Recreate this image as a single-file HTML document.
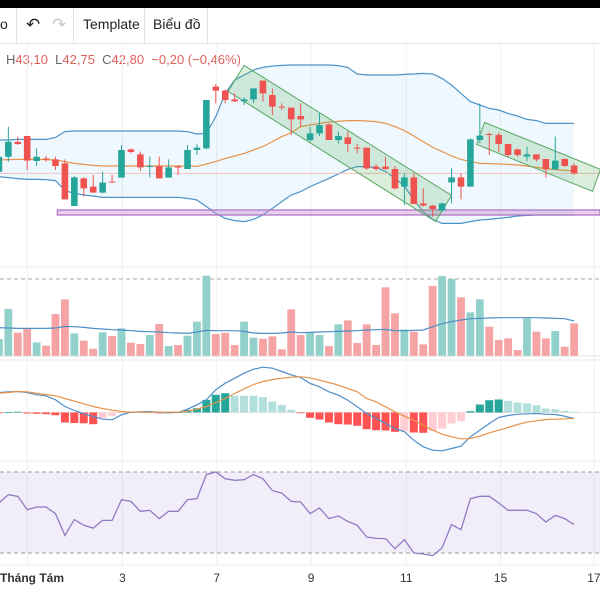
<!DOCTYPE html>
<html><head><meta charset="utf-8">
<style>
html,body{margin:0;padding:0;background:#fff;}
body{width:600px;height:600px;overflow:hidden;position:relative;font-family:"Liberation Sans","Noto Sans CJK SC",sans-serif;}
#topbar{position:absolute;left:0;top:0;width:600px;height:8px;background:#000;}
#toolbar{position:absolute;left:0;top:8px;width:600px;height:35px;border-bottom:1px solid #e6e6e6;background:#fff;}
.tb{position:absolute;top:0;height:35px;line-height:33px;font-size:14px;color:#222;}
.div{position:absolute;top:0;width:1px;height:35px;background:#e3e3e3;}
#ohlc{position:absolute;left:6px;top:52px;font-size:13px;color:#e0605a;white-space:nowrap;}
#ohlc .k{color:#666;}
svg{position:absolute;left:0;top:0;}
</style></head><body>
<div id="topbar"></div>
<div id="toolbar">
  <div class="tb" style="left:0">o</div>
  <div class="div" style="left:16px"></div>
  <div class="tb" style="left:26px;font-size:17px">↶</div>
  <div class="tb" style="left:52px;font-size:17px;color:#c8c8c8">↷</div>
  <div class="div" style="left:73px"></div>
  <div class="tb" style="left:83px">Template</div>
  <div class="div" style="left:144px"></div>
  <div class="tb" style="left:153px">Biểu đồ</div>
  <div class="div" style="left:207px"></div>
</div>
<div id="ohlc"><span class="k">H</span>43,10&nbsp; <span class="k">L</span>42,75&nbsp; <span class="k">C</span>42,80&nbsp; −0,20 (−0,46%)</div>
<svg id="chart" width="600" height="600"></svg>
<script>
const openP=[42.88,43.63,44.38,44.67,43.42,43.55,43.50,43.30,41.17,42.55,42.14,41.84,42.39,42.59,44.00,43.75,43.14,43.17,42.59,43.14,43.02,43.97,44.05,47.14,46.94,46.50,46.40,46.50,47.44,46.72,46.14,46.09,45.67,44.47,44.80,45.25,44.47,44.60,44.09,44.09,43.14,43.14,43.02,42.14,42.60,41.30,41.19,40.94,42.35,42.60,42.14,44.47,44.77,44.72,44.27,44.00,43.64,43.75,43.52,43.00,43.52,43.19];
const highP=[43.72,45.13,44.64,44.67,44.05,43.67,43.64,43.50,42.67,42.60,42.72,42.89,42.72,44.22,44.05,43.89,43.64,43.64,43.50,43.22,44.22,44.27,46.47,47.27,47.00,46.80,46.60,47.05,47.44,47.05,46.30,46.09,46.30,45.14,45.80,45.30,44.89,44.89,44.27,44.09,43.27,43.64,43.17,42.80,42.80,42.05,41.22,41.34,43.05,42.80,44.55,46.30,44.84,44.84,44.27,44.05,44.14,43.75,43.52,44.64,43.55,43.30];
const lowP=[42.80,43.39,44.22,42.97,43.17,43.39,42.97,41.50,41.17,41.64,41.84,41.80,42.34,42.59,43.80,42.92,42.60,42.55,42.59,42.72,43.02,43.72,44.00,46.30,46.30,46.37,46.22,46.30,46.39,45.72,45.97,44.72,45.14,44.39,44.67,44.47,44.30,43.89,43.80,42.97,42.94,42.97,42.00,41.22,41.27,41.14,40.64,40.89,41.30,41.50,42.14,44.30,43.72,43.89,43.64,43.64,43.42,43.39,42.60,42.97,43.14,42.72];
const closeP=[43.63,44.38,44.27,43.44,43.63,43.50,43.17,41.50,42.60,42.05,41.84,42.34,42.35,43.97,43.87,43.10,43.17,42.55,43.10,43.10,43.97,44.09,46.47,46.94,46.47,46.40,46.50,47.05,46.80,46.14,46.10,45.50,45.50,44.80,45.22,44.47,44.67,44.27,44.05,43.05,43.02,43.02,42.05,42.60,41.27,41.19,41.02,41.30,42.60,42.14,44.50,44.69,44.72,44.27,43.72,43.72,43.75,43.50,43.00,43.44,43.17,42.80];
const bbUpper=[44.47,44.47,44.50,44.50,44.50,44.50,44.60,44.89,44.92,44.92,44.92,44.92,44.92,44.92,44.92,44.92,44.92,44.92,44.92,44.92,44.89,44.77,44.80,45.64,46.80,47.47,47.72,47.97,48.10,48.17,48.20,48.22,48.22,48.22,48.22,48.22,48.19,48.10,47.77,47.72,47.72,47.72,47.72,47.75,47.77,47.80,47.77,47.55,47.22,46.80,46.39,46.22,46.05,45.97,45.80,45.67,45.50,45.44,45.30,45.30,45.30,45.30];
const bbMiddle=[43.47,43.49,43.50,43.50,43.50,43.49,43.47,43.39,43.30,43.25,43.20,43.17,43.17,43.17,43.17,43.17,43.17,43.17,43.17,43.17,43.17,43.15,43.27,43.39,43.55,43.67,43.80,43.97,44.14,44.39,44.64,44.84,45.14,45.22,45.30,45.37,45.40,45.44,45.44,45.42,45.39,45.30,45.14,44.94,44.67,44.39,44.10,43.89,43.67,43.50,43.39,43.30,43.29,43.27,43.25,43.22,43.17,43.10,43.04,42.99,42.95,42.92];
const bbLower=[42.64,42.59,42.54,42.50,42.50,42.49,42.44,41.94,41.80,41.72,41.67,41.60,41.60,41.60,41.60,41.60,41.60,41.60,41.60,41.60,41.55,41.47,41.14,40.80,40.55,40.44,40.39,40.50,40.72,41.05,41.39,41.72,41.89,42.14,42.34,42.55,42.77,43.00,43.14,43.14,43.10,42.89,42.55,42.17,41.47,40.89,40.50,40.30,40.30,40.30,40.39,40.47,40.50,40.55,40.60,40.67,40.70,40.72,40.72,40.72,40.72,40.72];
const volume=[50,140,69,82,40,30,125,169,67,45,21,70,59,82,39,35,62,95,29,32,60,102,240,65,69,32,102,54,51,58,19,139,62,69,62,29,94,106,38,94,32,205,127,79,72,34,209,239,230,175,130,169,87,47,52,17,112,72,52,74,27,97];
const volumeMA=[84,83,82,82,82,82,83,88,87,85,82,80,78,77,75,73,72,71,69,68,67,71,76,75,75,75,73,68,67,67,68,71,69,70,71,72,73,74,75,77,78,79,75,75,76,77,87,96,102,107,111,112,113,114,114,114,114,114,113,112,111,104];
const macdHist=[-0.005,0.005,0.008,-0.01,-0.013,-0.017,-0.027,-0.1,-0.105,-0.108,-0.117,-0.057,-0.033,-0.005,0.003,0.007,0.01,-0.007,0,0.003,0.027,0.043,0.127,0.177,0.193,0.167,0.167,0.167,0.153,0.11,0.077,0.027,-0.007,-0.053,-0.07,-0.1,-0.117,-0.12,-0.133,-0.167,-0.177,-0.18,-0.193,-0.187,-0.2,-0.203,-0.185,-0.16,-0.11,-0.087,0.013,0.08,0.123,0.13,0.117,0.1,0.09,0.073,0.04,0.033,0.017,0.007];
const macdLine=[0.2,0.207,0.21,0.2,0.177,0.167,0.127,0.06,0.02,-0.013,-0.04,-0.067,-0.073,-0.023,0.003,0.007,0.01,0,0,0,0.033,0.077,0.127,0.227,0.293,0.343,0.393,0.433,0.453,0.443,0.41,0.377,0.35,0.29,0.257,0.207,0.173,0.123,0.057,-0.01,-0.06,-0.11,-0.16,-0.193,-0.277,-0.343,-0.377,-0.383,-0.36,-0.337,-0.243,-0.177,-0.11,-0.05,-0.03,-0.017,-0.013,-0.01,-0.017,-0.02,-0.037,-0.06];
const signalLine=[0.193,0.2,0.21,0.207,0.193,0.18,0.167,0.14,0.113,0.087,0.06,0.04,0.023,0.01,0.003,0.003,0.003,0.003,0.003,0.003,0.013,0.033,0.06,0.1,0.14,0.19,0.237,0.28,0.31,0.33,0.343,0.353,0.357,0.347,0.323,0.3,0.273,0.24,0.207,0.14,0.107,0.057,0.007,-0.037,-0.077,-0.127,-0.177,-0.217,-0.243,-0.263,-0.26,-0.237,-0.203,-0.177,-0.15,-0.12,-0.097,-0.083,-0.07,-0.067,-0.063,-0.06];
const rsi=[54.7,58.8,58.0,51.4,52.7,52.7,49.4,38.7,46.5,43.7,42.3,46.1,46.1,56.3,55.5,50.6,51.1,47.0,50.6,50.6,56.3,56.8,68.7,70.0,66.7,65.9,66.2,68.7,66.7,60.8,59.6,55.5,55.2,49.4,52.2,47.0,48.3,45.6,43.7,37.9,37.2,37.1,32.1,36.6,30.0,29.5,28.7,32.5,44.0,41.5,56.8,58.0,58.0,54.7,51.1,51.1,51.1,49.4,45.3,48.6,47.0,44.0];
const dayLabels=["Tháng Tám","3","7","9","11","15","17"];
const dayIndex=[3,13.1,23.1,33.1,43.2,53.2,63.1];
const supportLevel=[40.97,40.72];
const channel1=[[26,48.2],[48,41.7]];
const channel2=[[51.5,45.35],[63.8,43.0]];

const NS="http://www.w3.org/2000/svg";
const svg=document.getElementById('chart');
function X(i){return -1.1+9.43*i;}
function PY(p){return 1029.4-20*p;}
function VY(v){return 355.7-v/3;}
function MY(v){return 412.5-v*100;}
function RY(r){return 472+(70-r)*2.025;}
function mk(tag,attrs,parent){const e=document.createElementNS(NS,tag);for(const k in attrs)e.setAttribute(k,attrs[k]);(parent||svg).appendChild(e);return e;}
function gp(name){const g=mk('g',{});return g;}
function poly(arr,fy){return arr.map((v,i)=>X(i).toFixed(1)+','+fy(v).toFixed(1)).join(' ');}

// grid
const grid=gp('grid');
dayIndex.forEach(d=>{mk('line',{x1:X(d),x2:X(d),y1:44,y2:565,stroke:'#f0f0f0','stroke-width':1},grid);});
[267,360,461,565].forEach(y=>{mk('line',{x1:0,x2:600,y1:y,y2:y,stroke:'#ebebeb','stroke-width':1},grid);});

// bollinger
const bb=gp('bollinger-bands');
let area=poly(bbUpper,PY)+' '+bbLower.map((v,i)=>X(i).toFixed(1)+','+PY(v).toFixed(1)).reverse().join(' ');
mk('polygon',{points:area,fill:'rgba(33,150,243,0.07)'},bb);
mk('polyline',{points:poly(bbUpper,PY),fill:'none',stroke:'#4f94c8','stroke-width':1.2},bb);
mk('polyline',{points:poly(bbLower,PY),fill:'none',stroke:'#4f94c8','stroke-width':1.2},bb);
mk('polyline',{points:poly(bbMiddle,PY),fill:'none',stroke:'#e8934a','stroke-width':1.2},bb);

// last price line
const lp=mk('line',{x1:0,x2:600,y1:PY(closeP[closeP.length-1]),y2:PY(closeP[closeP.length-1]),stroke:'#f2c4bb','stroke-width':1});



// support rectangle
const sr=mk('rect',{x:X(6.2),y:PY(supportLevel[0]),width:600-X(6.2),height:PY(supportLevel[1])-PY(supportLevel[0]),fill:'rgba(206,147,216,0.45)',stroke:'#ab6fc0','stroke-width':1.2});



// channels
function channel(c,off,name){
  const [a,b]=c;
  const p1=[X(a[0]),PY(a[1])],p2=[X(b[0]),PY(b[1])];
  const pts=[p1,p2,[p2[0]+off[0],p2[1]+off[1]],[p1[0]+off[0],p1[1]+off[1]]];
  const e=mk('polygon',{points:pts.map(p=>p.join(',')).join(' '),fill:'rgba(76,175,80,0.2)',stroke:'#5aa764','stroke-width':1});
  
  
}
channel(channel1,[-16,26],'trend-channel-1');
channel(channel2,[-8,22],'trend-channel-2');

// candles
const cg=gp('candles');
for(let i=0;i<closeP.length;i++){
  const up=closeP[i]>=openP[i];const col=up?'#26a69a':'#ef5350';
  const x=X(i);
  mk('line',{x1:x,x2:x,y1:PY(highP[i]),y2:PY(lowP[i]),stroke:col,'stroke-width':1},cg);
  const t=PY(Math.max(openP[i],closeP[i])),b=PY(Math.min(openP[i],closeP[i]));
  const r=mk('rect',{x:x-3.3,y:t,width:6.6,height:Math.max(1,b-t),fill:col},cg);
  
}

// volume
const vg=gp('volume-pane');
mk('line',{x1:0,x2:600,y1:279,y2:279,stroke:'#aaa','stroke-width':1,'stroke-dasharray':'4,3'},vg);
mk('line',{x1:0,x2:600,y1:356,y2:356,stroke:'#e0e0e0','stroke-width':1},vg);
for(let i=0;i<volume.length;i++){
  const up=closeP[i]>=openP[i];
  const r=mk('rect',{x:X(i)-3.9,y:VY(volume[i]),width:7.8,height:355.7-VY(volume[i]),fill:up?'#92d1cb':'#f5a3a5'},vg);
  
}
mk('polyline',{points:poly(volumeMA,VY),fill:'none',stroke:'#4f8fc8','stroke-width':1.2},vg);

// macd
const mg=gp('macd-pane');
mk('line',{x1:0,x2:600,y1:MY(0),y2:MY(0),stroke:'#f0e0e0','stroke-width':1},mg);
for(let i=0;i<macdHist.length;i++){
  const v=macdHist[i],pv=i?macdHist[i-1]:0;let col;
  if(v>=0)col=v>pv?'#26a69a':'#b2dfdb';else col=v<pv?'#ff5252':'#ffcdd2';
  const y1=MY(Math.max(v,0)),y2=MY(Math.min(v,0));
  const r=mk('rect',{x:X(i)-4,y:y1,width:8,height:Math.max(0.8,y2-y1),fill:col},mg);
  
}
mk('polyline',{points:poly(macdLine,MY),fill:'none',stroke:'#4f8fc8','stroke-width':1.2},mg);
mk('polyline',{points:poly(signalLine,MY),fill:'none',stroke:'#e8934a','stroke-width':1.2},mg);

// rsi
const rg=gp('rsi-pane');
mk('rect',{x:0,y:RY(70),width:600,height:RY(30)-RY(70),fill:'rgba(126,87,194,0.1)'},rg);
mk('line',{x1:0,x2:600,y1:RY(70),y2:RY(70),stroke:'#999','stroke-width':1,'stroke-dasharray':'4,3'},rg);
mk('line',{x1:0,x2:600,y1:RY(30),y2:RY(30),stroke:'#999','stroke-width':1,'stroke-dasharray':'4,3'},rg);
mk('polyline',{points:poly(rsi,RY),fill:'none',stroke:'#8e7cc3','stroke-width':1.3},rg);

// x axis
const xg=gp('x-axis');
dayLabels.forEach((l,k)=>{
  const first=k===0;
  const t=mk('text',{x:first?0:X(dayIndex[k]),y:582,'font-size':12,fill:'#333','text-anchor':first?'start':'middle','font-weight':first?'bold':'normal','font-family':'Liberation Sans, sans-serif'},xg);
  t.textContent=l;
  
});
</script>
</body></html>
